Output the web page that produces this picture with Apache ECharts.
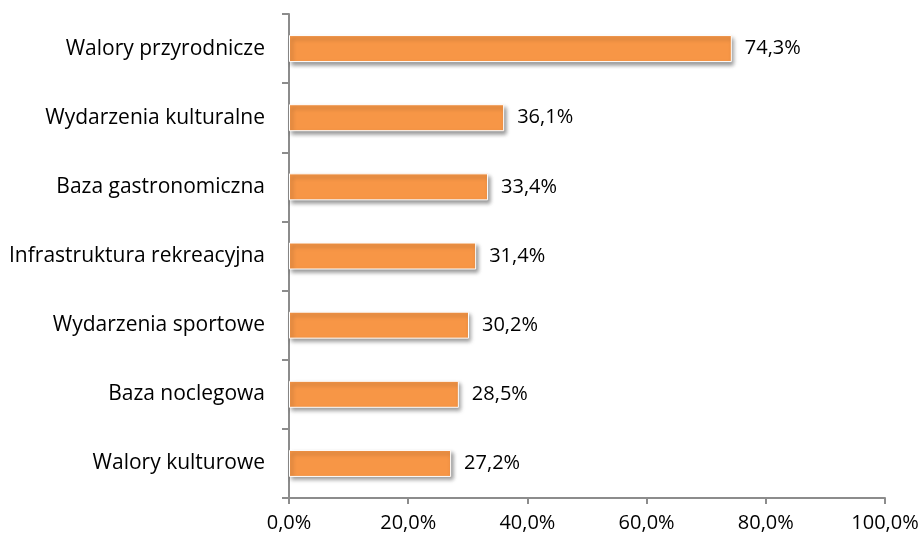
<!DOCTYPE html>
<html>
<head>
<meta charset="utf-8">
<script src="https://cdn.jsdelivr.net/npm/echarts@6/dist/echarts.min.js"></script>
<style>
  html, body { margin: 0; padding: 0; background: #fff; }
  #chart { width: 924px; height: 538px; }
</style>
</head>
<body>
<div id="chart"></div>
<script>
// kategorie od góry do dołu
var categories = [
  'Walory przyrodnicze',
  'Wydarzenia kulturalne',
  'Baza gastronomiczna',
  'Infrastruktura rekreacyjna',
  'Wydarzenia sportowe',
  'Baza noclegowa',
  'Walory kulturowe'
]
var values = [74.3, 36.1, 33.4, 31.4, 30.2, 28.5, 27.2]
var xTicks = [0, 20, 40, 60, 80, 100]

var chart = echarts.init(document.getElementById('chart'))
var fmt = function (v) { return v.toFixed(1).replace('.', ',') + '%' }
var font = '"Open Sans", sans-serif'

chart.setOption({
  animation: false,
  grid: { left: 289, right: 39, top: 14, bottom: 40 },
  xAxis: {
    type: 'value',
    min: xTicks[0],
    max: xTicks[xTicks.length - 1],
    interval: 20,
    splitLine: { show: false },
    axisLine: { show: true, lineStyle: { color: '#8c8c8c', width: 2 } },
    axisTick: { show: true, length: 6, lineStyle: { color: '#8c8c8c', width: 2 } },
    axisLabel: {
      margin: 15,
      color: '#000',
      fontSize: 20,
      fontFamily: font,
      formatter: function (v) { return fmt(v) }
    }
  },
  yAxis: {
    type: 'category',
    inverse: true,
    data: categories,
    axisLine: { lineStyle: { color: '#8c8c8c', width: 2 } },
    axisTick: { show: true, length: 7, lineStyle: { color: '#8c8c8c', width: 2 } },
    axisLabel: {
      margin: 24,
      color: '#000',
      fontSize: 21,
      fontFamily: font
    }
  },
  series: [{
    type: 'bar',
    data: values,
    barWidth: 27,
    itemStyle: {
      color: '#F79646',
      borderColor: '#fff',
      borderWidth: 1,
      shadowColor: 'rgba(0,0,0,0.4)',
      shadowBlur: 4,
      shadowOffsetX: 2,
      shadowOffsetY: 3
    },
    label: {
      show: true,
      position: 'right',
      distance: 13,
      color: '#000',
      fontSize: 20,
      fontFamily: font,
      formatter: function (p) { return fmt(p.value) }
    }
  }]
})
</script>
</body>
</html>
